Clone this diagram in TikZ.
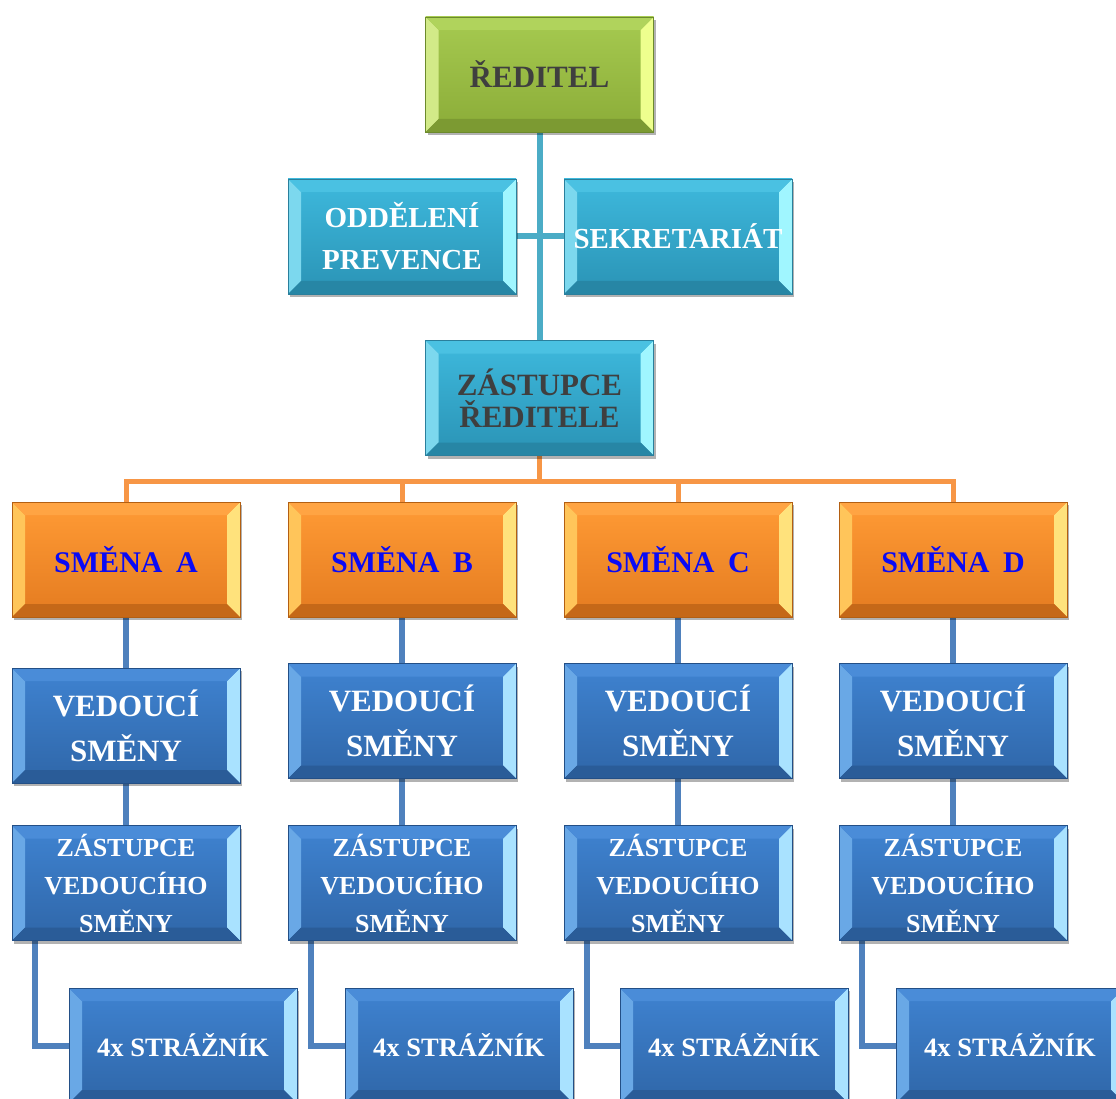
\documentclass[tikz,border=0pt]{standalone}
\usepackage{fontspec}
\setmainfont{Liberation Serif}
\usetikzlibrary{shadows,backgrounds}
\definecolor{cyanline}{HTML}{4BACC6}
\definecolor{orangeline}{HTML}{F79646}
\definecolor{blueline}{HTML}{4F81BD}
\definecolor{darktext}{HTML}{3F3F3F}
\definecolor{bluetext}{HTML}{0A0AF5}
% green palette
\definecolor{gT}{HTML}{A6CA50}\definecolor{gB}{HTML}{8BAC38}\definecolor{gE}{HTML}{6C8A2C}
\definecolor{gL}{HTML}{D2EA88}\definecolor{gR}{HTML}{EEFF8E}\definecolor{gU}{HTML}{B0D35C}\definecolor{gD}{HTML}{7C9A32}
% cyan palette
\definecolor{cT}{HTML}{3EB9DD}\definecolor{cB}{HTML}{2A93B5}\definecolor{cE}{HTML}{2A7F9C}
\definecolor{cL}{HTML}{7CD8EE}\definecolor{cR}{HTML}{A0F6FF}\definecolor{cU}{HTML}{4AC1E2}\definecolor{cD}{HTML}{2786A5}
% orange palette
\definecolor{oT}{HTML}{FF9B35}\definecolor{oB}{HTML}{E47B20}\definecolor{oE}{HTML}{B35F12}
\definecolor{oL}{HTML}{FFC55A}\definecolor{oR}{HTML}{FFE27C}\definecolor{oU}{HTML}{FFA443}\definecolor{oD}{HTML}{C56818}
% blue palette
\definecolor{bT}{HTML}{3F83D1}\definecolor{bB}{HTML}{2F66A8}\definecolor{bE}{HTML}{234F86}
\definecolor{bL}{HTML}{69A8E6}\definecolor{bR}{HTML}{A9E2FF}\definecolor{bU}{HTML}{4A8CD8}\definecolor{bD}{HTML}{2A5C98}
\tikzset{
  orgbox/.style={rectangle, minimum width=228pt, minimum height=115pt, inner sep=0pt, outer sep=0pt,
    align=center, line width=0.8pt,
    drop shadow={shadow xshift=2pt, shadow yshift=-3pt, opacity=0.3, fill=black}},
  pal/.style={top color=#1T, bottom color=#1B, draw=#1E,
    path picture={
      \fill[#1L] (path picture bounding box.south west) -- (path picture bounding box.north west)
        -- ([xshift=13pt,yshift=-13pt]path picture bounding box.north west)
        -- ([xshift=13pt,yshift=13pt]path picture bounding box.south west) -- cycle;
      \fill[#1R] (path picture bounding box.south east) -- (path picture bounding box.north east)
        -- ([xshift=-13pt,yshift=-13pt]path picture bounding box.north east)
        -- ([xshift=-13pt,yshift=13pt]path picture bounding box.south east) -- cycle;
      \fill[#1U] (path picture bounding box.north west) -- (path picture bounding box.north east)
        -- ([xshift=-13pt,yshift=-13pt]path picture bounding box.north east)
        -- ([xshift=13pt,yshift=-13pt]path picture bounding box.north west) -- cycle;
      \fill[#1D] (path picture bounding box.south west) -- (path picture bounding box.south east)
        -- ([xshift=-13pt,yshift=13pt]path picture bounding box.south east)
        -- ([xshift=13pt,yshift=13pt]path picture bounding box.south west) -- cycle;
    }},
  topbox/.style={orgbox, pal=g, text=darktext, font=\bfseries\fontsize{31}{32}\selectfont},
  deptbox/.style={orgbox, pal=c, text=white, font=\bfseries\fontsize{29}{42}\selectfont},
  depbox/.style={orgbox, pal=c, text=darktext, font=\bfseries\fontsize{31}{32}\selectfont},
  shiftbox/.style={orgbox, pal=o, text=bluetext, font=\bfseries\fontsize{30}{32}\selectfont},
  leadbox/.style={orgbox, pal=b, text=white, font=\bfseries\fontsize{31}{45}\selectfont},
  deputybox/.style={orgbox, pal=b, text=white, font=\bfseries\fontsize{26}{38}\selectfont},
  guardbox/.style={orgbox, pal=b, text=white, font=\bfseries\fontsize{26.5}{30}\selectfont},
  cyl/.style={draw=cyanline, line width=6pt},
  orl/.style={draw=orangeline, line width=5pt},
  bll/.style={draw=blueline, line width=6pt},
}
\begin{document}
\begin{tikzpicture}[x=1pt,y=-1pt]
\useasboundingbox (0,0) rectangle (1116,1099);
\clip (0,0) rectangle (1116,1099);
\node[topbox] (dir) at (539.5,74.5) {ŘEDITEL};
\node[deptbox] (odd) at (402,236.5) {ODDĚLENÍ\\PREVENCE};
\node[deptbox] (sek) at (678,236.5) {SEKRETARIÁT};
\node[depbox] (zr) at (539.5,398) {ZÁSTUPCE\\ŘEDITELE};
\coordinate (bus) at (539.5,481);
\foreach \c/\x/\vy in {A/126/725.5, B/402/721, C/678/721, D/953/721} {
  \node[shiftbox] (s\c) at (\x,559.5) {SMĚNA\hspace{0.45em}\c};
  \node[leadbox] (v\c) at (\x,\vy) {VEDOUCÍ\\SMĚNY};
  \node[deputybox] (z\c) at (\x,883) {ZÁSTUPCE\\VEDOUCÍHO\\SMĚNY};
}
\node[guardbox] (gA) at (183,1045.5) {4x STRÁŽNÍK};
\node[guardbox] (gB) at (459,1045.5) {4x STRÁŽNÍK};
\node[guardbox] (gC) at (734,1045.5) {4x STRÁŽNÍK};
\node[guardbox] (gD) at (1010,1045.5) {4x STRÁŽNÍK};
\begin{scope}[on background layer]
  \draw[cyl] (dir.south) -- (zr.north);
  \draw[cyl] (odd.east) -- (sek.west);
  \draw[orl] (zr.south) -- (bus);
  \draw[orl] (sA.north) |- (bus) -| (sD.north);
  \draw[orl] (sB.north) -- (sB.north |- bus);
  \draw[orl] (sC.north) -- (sC.north |- bus);
  \foreach \c in {A,B,C,D} {
    \draw[bll] (s\c.south) -- (v\c.north);
    \draw[bll] (v\c.south) -- (z\c.north);
    \draw[bll] ([xshift=23pt]z\c.south west) |- (g\c.west);
  }
\end{scope}
\end{tikzpicture}
\end{document}
